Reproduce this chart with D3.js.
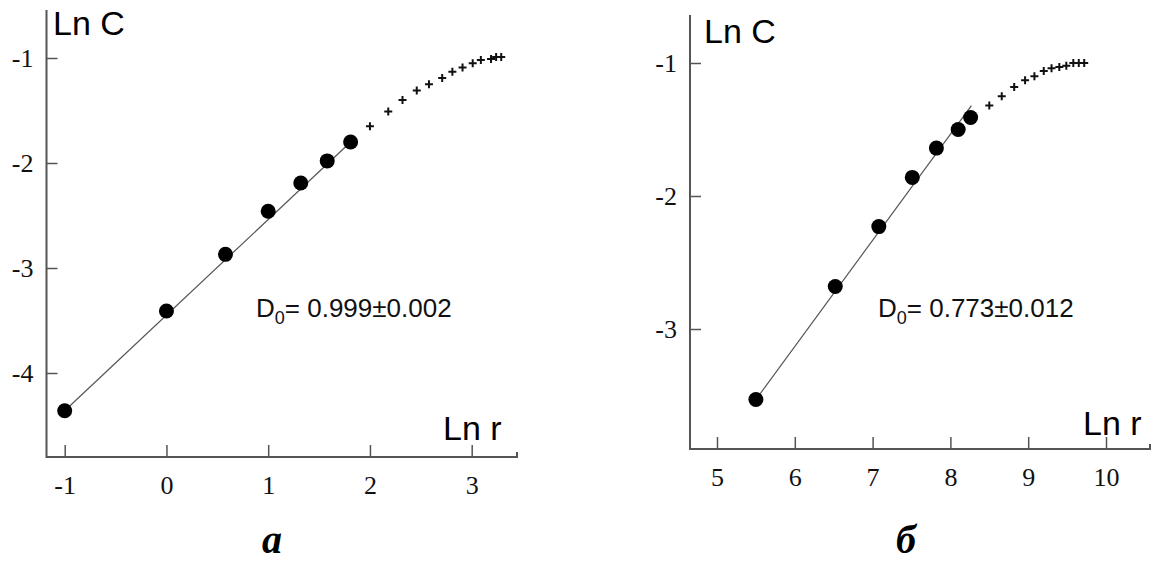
<!DOCTYPE html>
<html>
<head>
<meta charset="utf-8">
<script src="https://cdn.jsdelivr.net/npm/d3@7"></script>
<style>
  body { margin: 0; background: #fff; }
  svg { display: block; }
  .tick text { font-family: "Liberation Serif", "Times New Roman", serif; font-size: 26px; fill: #111; }
  .tick line { stroke: #555; stroke-width: 1.5; }
</style>
</head>
<body>
<svg id="chart" width="1153" height="562"></svg>
<script>
// panel a
const aDotX = [-1, 0, 0.58, 1.0, 1.32, 1.58, 1.81];
const aDotY = [-4.36, -3.41, -2.87, -2.46, -2.19, -1.98, -1.80];
const aCrossX = [2.00, 2.18, 2.32, 2.46, 2.58, 2.71, 2.81, 2.91, 3.01, 3.09, 3.19, 3.24, 3.29];
const aCrossY = [-1.65, -1.51, -1.40, -1.31, -1.25, -1.19, -1.13, -1.09, -1.05, -1.02, -1.01, -0.99, -0.99];
const aFit = [[-1, -4.36], [1.81, -1.80]];
const aXTicks = [-1, 0, 1, 2, 3];
const aYTicks = [-1, -2, -3, -4];
const aNote = ["0.999", "0.002"];

// panel б
const bDotX = [5.50, 6.52, 7.08, 7.51, 7.82, 8.10, 8.26];
const bDotY = [-3.53, -2.68, -2.23, -1.86, -1.64, -1.50, -1.41];
const bCrossX = [8.50, 8.66, 8.82, 8.96, 9.08, 9.20, 9.30, 9.40, 9.49, 9.58, 9.65, 9.72];
const bCrossY = [-1.32, -1.25, -1.18, -1.13, -1.10, -1.06, -1.04, -1.03, -1.02, -1.00, -1.00, -1.00];
const bFit = [[5.50, -3.53], [8.27, -1.32]];
const bXTicks = [5, 6, 7, 8, 9, 10];
const bYTicks = [-1, -2, -3];
const bNote = ["0.773", "0.012"];

const svg = d3.select("#chart");

function panel(opt) {
  const g = svg.append("g");
  const x = d3.scaleLinear().domain(opt.xDom).range(opt.xRange);
  const y = d3.scaleLinear().domain(opt.yDom).range(opt.yRange);
  const f = opt.frame;

  // x axis, ticks pointing up
  g.append("g")
    .attr("transform", `translate(0,${f.bottom})`)
    .call(d3.axisBottom(x).tickValues(opt.xTicks).tickSize(-12).tickPadding(19)
      .tickFormat(d => String(d)))
    .call(a => a.select(".domain").remove());

  // y axis, ticks pointing right
  g.append("g")
    .attr("transform", `translate(${f.left},0)`)
    .call(d3.axisLeft(y).tickValues(opt.yTicks).tickSize(-11).tickPadding(13)
      .tickFormat(d => String(d)))
    .call(a => a.select(".domain").remove());

  // axis lines
  g.append("path")
    .attr("d", `M${f.left},${f.top}V${f.bottom}H${f.right}v-5`)
    .attr("fill", "none")
    .attr("stroke", "#555")
    .attr("stroke-width", 2);

  // fitted line
  g.append("path")
    .attr("d", d3.line().x(d => x(d[0])).y(d => y(d[1]))(opt.fit))
    .attr("stroke", "#555")
    .attr("stroke-width", 1.2)
    .attr("fill", "none");

  // crosses
  const cross = d3.range(opt.crossX.length).map(i => [opt.crossX[i], opt.crossY[i]]);
  g.selectAll(".cross")
    .data(cross)
    .join("path")
    .attr("class", "cross")
    .attr("d", d => `M${x(d[0]) - 4},${y(d[1])}h8M${x(d[0])},${y(d[1]) - 4}v8`)
    .attr("stroke", "#111")
    .attr("stroke-width", 2);

  // dots
  const dots = d3.range(opt.dotX.length).map(i => [opt.dotX[i], opt.dotY[i]]);
  g.selectAll(".dot")
    .data(dots)
    .join("circle")
    .attr("class", "dot")
    .attr("cx", d => x(d[0]))
    .attr("cy", d => y(d[1]))
    .attr("r", 7.5)
    .attr("fill", "#000");

  // axis titles
  g.append("text")
    .attr("x", opt.cPos[0]).attr("y", opt.cPos[1])
    .style("font-family", "'Liberation Sans', Arial, sans-serif")
    .style("font-size", "34px")
    .text("Ln C");
  g.append("text")
    .attr("x", opt.rPos[0]).attr("y", opt.rPos[1])
    .style("font-family", "'Liberation Sans', Arial, sans-serif")
    .style("font-size", "34px")
    .text("Ln r");

  // D0 note
  const note = g.append("text")
    .attr("x", opt.notePos[0]).attr("y", opt.notePos[1])
    .style("font-family", "'Liberation Sans', Arial, sans-serif")
    .style("font-size", "26px")
    .attr("fill", "#111");
  note.append("tspan").text("D");
  note.append("tspan").attr("dy", 7).style("font-size", "18px").text("0");
  note.append("tspan").attr("dy", -7).text(`= ${opt.note[0]}±${opt.note[1]}`);

  // panel letter
  g.append("text")
    .attr("x", opt.letterPos[0]).attr("y", opt.letterPos[1])
    .attr("text-anchor", "middle")
    .style("font-family", "'Liberation Serif', 'Times New Roman', serif")
    .style("font-size", "40px")
    .style("font-weight", "bold")
    .style("font-style", "italic")
    .text(opt.letter);
}

panel({
  xDom: [-1, 3], xRange: [64.7, 471.7],
  yDom: [-1, -4], yRange: [58, 373],
  frame: { left: 46.5, right: 517, top: 10, bottom: 457 },
  xTicks: aXTicks, yTicks: aYTicks,
  dotX: aDotX, dotY: aDotY, crossX: aCrossX, crossY: aCrossY, fit: aFit,
  cPos: [53, 35], rPos: [443, 440], notePos: [256, 317], note: aNote,
  letter: "а", letterPos: [272, 553]
});

panel({
  xDom: [5, 10], xRange: [717, 1106],
  yDom: [-1, -3], yRange: [63, 329],
  frame: { left: 690, right: 1150, top: 15, bottom: 449 },
  xTicks: bXTicks, yTicks: bYTicks,
  dotX: bDotX, dotY: bDotY, crossX: bCrossX, crossY: bCrossY, fit: bFit,
  cPos: [704, 43], rPos: [1083, 435], notePos: [878, 317], note: bNote,
  letter: "б", letterPos: [906, 553]
});
</script>
</body>
</html>
